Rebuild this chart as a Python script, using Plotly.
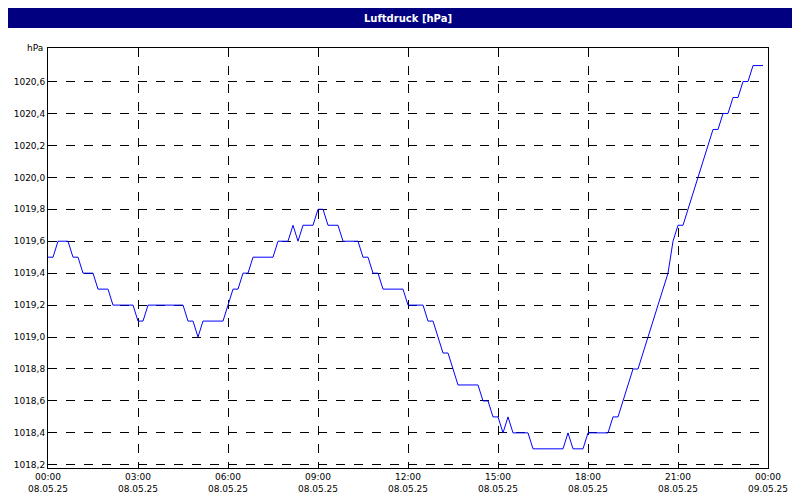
import pandas as pd
import plotly.graph_objects as go

# Luftdruck, 10-Minuten-Werte vom 08.05.25 (hPa)
pressure = [
    1019.5, 1019.5, 1019.6, 1019.6, 1019.6, 1019.5, 1019.5, 1019.4, 1019.4, 1019.4,
    1019.3, 1019.3, 1019.3, 1019.2, 1019.2, 1019.2, 1019.2, 1019.2, 1019.1, 1019.1,
    1019.2, 1019.2, 1019.2, 1019.2, 1019.2, 1019.2, 1019.2, 1019.2, 1019.1, 1019.1,
    1019.0, 1019.1, 1019.1, 1019.1, 1019.1, 1019.1, 1019.2, 1019.3, 1019.3, 1019.4,
    1019.4, 1019.5, 1019.5, 1019.5, 1019.5, 1019.5, 1019.6, 1019.6, 1019.6, 1019.7,
    1019.6, 1019.7, 1019.7, 1019.7, 1019.8, 1019.8, 1019.7, 1019.7, 1019.7, 1019.6,
    1019.6, 1019.6, 1019.6, 1019.5, 1019.5, 1019.4, 1019.4, 1019.3, 1019.3, 1019.3,
    1019.3, 1019.3, 1019.2, 1019.2, 1019.2, 1019.2, 1019.1, 1019.1, 1019.0, 1018.9,
    1018.9, 1018.8, 1018.7, 1018.7, 1018.7, 1018.7, 1018.7, 1018.6, 1018.6, 1018.5,
    1018.5, 1018.4, 1018.5, 1018.4, 1018.4, 1018.4, 1018.4, 1018.3, 1018.3, 1018.3,
    1018.3, 1018.3, 1018.3, 1018.3, 1018.4, 1018.3, 1018.3, 1018.3, 1018.4, 1018.4,
    1018.4, 1018.4, 1018.4, 1018.5, 1018.5, 1018.6, 1018.7, 1018.8, 1018.8, 1018.9,
    1019.0, 1019.1, 1019.2, 1019.3, 1019.4, 1019.6, 1019.7, 1019.7, 1019.8, 1019.9,
    1020.0, 1020.1, 1020.2, 1020.3, 1020.3, 1020.4, 1020.4, 1020.5, 1020.5, 1020.6,
    1020.6, 1020.7, 1020.7, 1020.7,
]
times = pd.date_range("2025-05-08 00:00", periods=len(pressure), freq="10min")

y_ticks = [1018.2, 1018.4, 1018.6, 1018.8, 1019.0, 1019.2, 1019.4, 1019.6,
           1019.8, 1020.0, 1020.2, 1020.4, 1020.6]
y_labels = [f"{v:.1f}".replace(".", ",") for v in y_ticks]

x_ticks = pd.date_range("2025-05-08 00:00", "2025-05-09 00:00", freq="3h")
x_labels = [t.strftime("%H:%M") + "<br>" + t.strftime("%d.%m.%y") for t in x_ticks]

fig = go.Figure()
fig.add_trace(go.Scatter(x=times, y=pressure, mode="lines",
                         line=dict(color="#0000ff", width=1)))

# Titelleiste (Plotfläche 420 px hoch, 40 px Rand oben)
fig.add_shape(type="rect", xref="paper", yref="paper", x0=-0.06, x1=1.06,
              y0=1 + 20 / 420, y1=1 + 41 / 420, fillcolor="#000080",
              line_width=0, layer="above")
fig.add_annotation(text="<b>Luftdruck [hPa]</b>", xref="paper", yref="paper",
                   x=0.5, y=1 + 30 / 420, showarrow=False, yanchor="middle",
                   font=dict(color="white", size=10))
fig.add_annotation(text="hPa", xref="paper", yref="paper", x=-0.004, y=1.0,
                   xanchor="right", yanchor="middle", showarrow=False,
                   font=dict(size=9))

fig.update_xaxes(range=[x_ticks[0], x_ticks[-1]], tickvals=x_ticks, ticktext=x_labels,
                 showgrid=True, gridcolor="black", griddash="dash", gridwidth=1,
                 showline=True, linecolor="black", mirror=True, ticks="",
                 zeroline=False, automargin=False)
fig.update_yaxes(range=[1018.18, 1020.81], tickvals=y_ticks, ticktext=y_labels,
                 showgrid=True, gridcolor="black", griddash="dash", gridwidth=1,
                 showline=True, linecolor="black", mirror=True, ticks="",
                 zeroline=False, automargin=False)
fig.update_layout(width=800, height=500, showlegend=False,
                  margin=dict(l=40, r=40, t=40, b=40),
                  plot_bgcolor="white", paper_bgcolor="white",
                  font=dict(family="DejaVu Sans", size=9, color="black"))

fig.write_html("out.html")
